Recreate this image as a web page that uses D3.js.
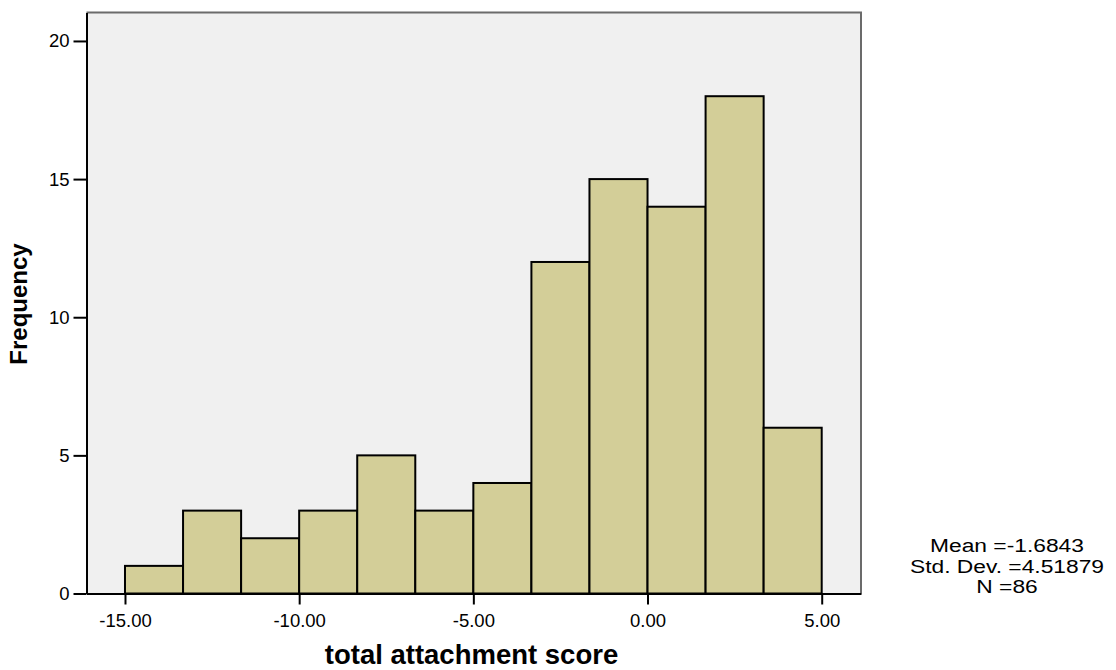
<!DOCTYPE html>
<html><head><meta charset="utf-8">
<script src="https://cdn.jsdelivr.net/npm/d3@7"></script>
<style>body{margin:0;background:#fff}svg{display:block}text{font-family:"Liberation Sans",Arial,sans-serif}</style>
</head><body>
<script>
const binEdges = [-15, -13.3333, -11.6667, -10, -8.3333, -6.6667, -5, -3.3333, -1.6667, 0, 1.6667, 3.3333, 5];
const counts = [1, 3, 2, 3, 5, 3, 4, 12, 15, 14, 18, 6];
const xTicks = [-15, -10, -5, 0, 5];
const yTicks = [0, 5, 10, 15, 20];
const statsLines = ["Mean =-1.6843", "Std. Dev. =4.51879", "N =86"];

const W = 1116, H = 670;
const svg = d3.select("body").append("svg").attr("width", W).attr("height", H);
const L = 86.5, R = 861, T = 12.5, B = 593.5;
const x = d3.scaleLinear().domain([-16.105, 6.128]).range([L, R]);
const y = d3.scaleLinear().domain([0, 21.03]).range([B, T]);

svg.append("rect").attr("x", L).attr("y", T).attr("width", R - L).attr("height", B - T).attr("fill", "#f0f0f0");
svg.append("path").attr("d", `M${L},${T}H${R}V${B}`).attr("fill", "none").attr("stroke", "#6b6b6b").attr("stroke-width", 2);

const bins = counts.map((c, i) => ({x0: binEdges[i], x1: binEdges[i + 1], c}));
svg.append("g").selectAll("rect").data(bins).join("rect")
  .attr("x", d => x(d.x0)).attr("width", d => x(d.x1) - x(d.x0))
  .attr("y", d => y(d.c)).attr("height", d => y(0) - y(d.c))
  .attr("fill", "#d3ce98").attr("stroke", "#000").attr("stroke-width", 2);

const xa = svg.append("g").attr("transform", `translate(0,${B})`)
  .call(d3.axisBottom(x).tickValues(xTicks).tickFormat(d3.format(".2f")).tickSize(11).tickSizeOuter(0).tickPadding(9));
xa.select(".domain").attr("stroke", "#000").attr("stroke-width", 2);
xa.selectAll(".tick line").attr("stroke", "#000").attr("stroke-width", 2);
xa.selectAll("text").attr("font-size", 18.5).attr("fill", "#000").text(d => d3.format(".2f")(d).replace("\u2212", "-"));

const ya = svg.append("g").attr("transform", `translate(${L},0)`)
  .call(d3.axisLeft(y).tickValues(yTicks).tickFormat(d3.format("d")).tickSize(13).tickSizeOuter(0).tickPadding(4));
ya.select(".domain").attr("stroke", "#000").attr("stroke-width", 2);
ya.selectAll(".tick line").attr("stroke", "#000").attr("stroke-width", 2);
ya.selectAll("text").attr("font-size", 18.5).attr("fill", "#000");

svg.append("text").attr("x", 471.5).attr("y", 664).attr("text-anchor", "middle")
  .attr("font-size", 27.5).attr("font-weight", "bold").text("total attachment score");
svg.append("text").attr("transform", "translate(27,304) rotate(-90)").attr("text-anchor", "middle")
  .attr("font-size", 24).attr("font-weight", "bold").text("Frequency");

svg.append("g").attr("transform", "translate(1007,0) scale(1.2,1)")
  .selectAll("text").data(statsLines).join("text")
  .attr("x", 0).attr("y", (d, i) => 552 + i * 20.7).attr("text-anchor", "middle")
  .attr("font-size", 19).text(d => d);
</script>
</body></html>
